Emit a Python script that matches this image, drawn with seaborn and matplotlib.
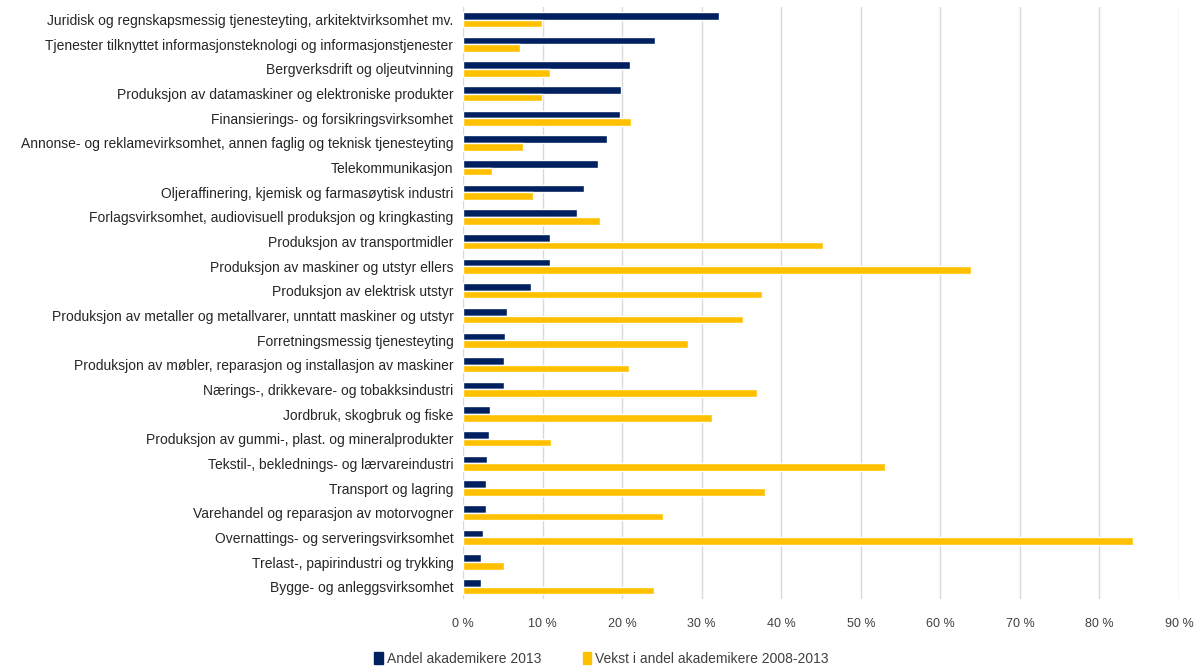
import matplotlib
matplotlib.use("Agg")
import matplotlib.pyplot as plt
import seaborn as sns
import pandas as pd
from matplotlib.ticker import FuncFormatter

# Næringer, sortert etter andel akademikere 2013
naeringer = [
    "Juridisk og regnskapsmessig tjenesteyting, arkitektvirksomhet mv.",
    "Tjenester tilknyttet informasjonsteknologi og informasjonstjenester",
    "Bergverksdrift og oljeutvinning",
    "Produksjon av datamaskiner og elektroniske produkter",
    "Finansierings- og forsikringsvirksomhet",
    "Annonse- og reklamevirksomhet, annen faglig og teknisk tjenesteyting",
    "Telekommunikasjon",
    "Oljeraffinering, kjemisk og farmasøytisk industri",
    "Forlagsvirksomhet, audiovisuell produksjon og kringkasting",
    "Produksjon av transportmidler",
    "Produksjon av maskiner og utstyr ellers",
    "Produksjon av elektrisk utstyr",
    "Produksjon av metaller og metallvarer, unntatt maskiner og utstyr",
    "Forretningsmessig tjenesteyting",
    "Produksjon av møbler, reparasjon og installasjon av maskiner",
    "Nærings-, drikkevare- og tobakksindustri",
    "Jordbruk, skogbruk og fiske",
    "Produksjon av gummi-, plast. og mineralprodukter",
    "Tekstil-, beklednings- og lærvareindustri",
    "Transport og lagring",
    "Varehandel og reparasjon av motorvogner",
    "Overnattings- og serveringsvirksomhet",
    "Trelast-, papirindustri og trykking",
    "Bygge- og anleggsvirksomhet",
]

andel_2013 = [32.2, 24.1, 21.0, 19.8, 19.7, 18.1, 16.9, 15.2, 14.3, 10.9, 10.9, 8.5,
              5.5, 5.3, 5.1, 5.1, 3.4, 3.2, 3.0, 2.9, 2.9, 2.5, 2.3, 2.3]

vekst_2008_2013 = [9.9, 7.2, 10.9, 9.9, 21.1, 7.5, 3.6, 8.8, 17.2, 45.2, 63.9, 37.6,
                   35.2, 28.3, 20.8, 36.9, 31.3, 11.0, 53.1, 37.9, 25.1, 84.2, 5.1, 24.0]

serier = ["Andel akademikere 2013", "Vekst i andel akademikere 2008-2013"]
farger = ["#002060", "#FFC000"]

df = pd.DataFrame({
    "naering": naeringer * 2,
    "verdi": andel_2013 + vekst_2008_2013,
    "serie": [serier[0]] * len(naeringer) + [serier[1]] * len(naeringer),
})

sns.set_style("white")
plt.rcParams["font.family"] = ["Liberation Sans", "DejaVu Sans"]

fig = plt.figure(figsize=(12.03, 6.70), dpi=100)
ax = fig.add_axes([0.385, 0.106, 0.595, 0.883])

sns.barplot(data=df, y="naering", x="verdi", hue="serie", order=naeringer,
            hue_order=serier, palette=farger, orient="h", width=0.62,
            saturation=1, ax=ax, legend=True)

ax.set_xlim(0, 90)
ax.set_xticks(range(0, 91, 10))
ax.xaxis.set_major_formatter(FuncFormatter(lambda v, p: f"{int(v)} %"))
ax.grid(axis="x", color="#d9d9d9", linewidth=1)
ax.set_axisbelow(True)
for s in ax.spines.values():
    s.set_visible(False)
ax.set_xlabel("")
ax.set_ylabel("")
ax.tick_params(axis="y", labelsize=10, length=0, pad=7, colors="#262626")
ax.tick_params(axis="x", labelsize=9, length=0, pad=14, colors="#404040")

ax.get_legend().remove()
handles = [plt.Rectangle((0, 0), 1, 1, color=c) for c in farger]
fig.legend(handles, serier, loc="lower center", bbox_to_anchor=(0.5, -0.012),
           ncol=2, frameon=False, fontsize=10, handlelength=0.6,
           handleheight=1.0, handletextpad=0.3, columnspacing=3.0,
           labelcolor="#404040")

fig.savefig("out.png", dpi=100)
